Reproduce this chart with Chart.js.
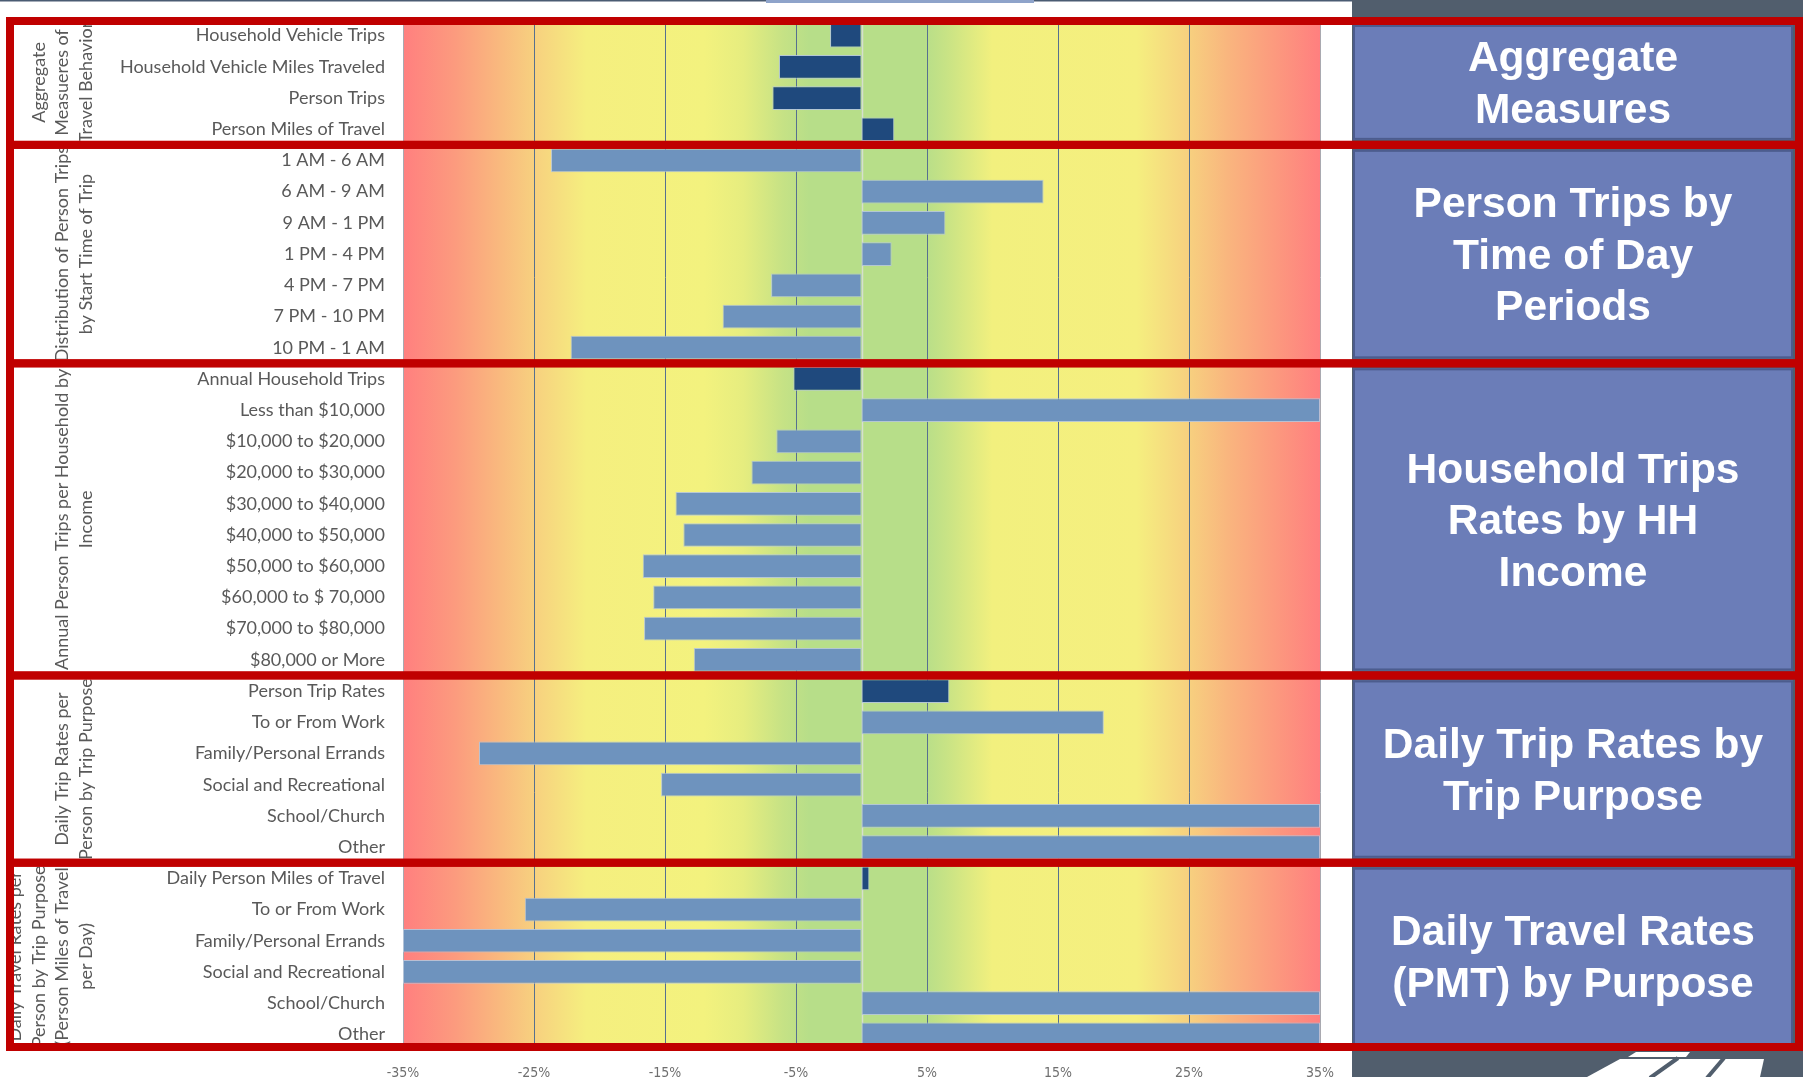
<!DOCTYPE html>
<html>
<head>
<meta charset="utf-8">
<title>Travel Behavior Change</title>
<script src="https://cdn.jsdelivr.net/npm/chart.js@4.4.1/dist/chart.umd.min.js"></script>
<style>
  html, body { margin: 0; padding: 0; background: #ffffff; }
  canvas { display: block; }
</style>
</head>
<body>
<canvas id="chart" width="1803" height="1077"></canvas>
<script>
// ---- Data: percent change by measure, grouped in five sections ----
const aggregateLabels = ['Household Vehicle Trips', 'Household Vehicle Miles Traveled', 'Person Trips', 'Person Miles of Travel'];
const aggregateValues = [-2.4, -6.3, -6.8, 2.5];

const timeOfDayLabels = ['1 AM - 6 AM', '6 AM - 9 AM', '9 AM - 1 PM', '1 PM - 4 PM', '4 PM - 7 PM', '7 PM - 10 PM', '10 PM - 1 AM'];
const timeOfDayValues = [-23.7, 13.9, 6.4, 2.3, -6.9, -10.6, -22.2];

const incomeLabels = ['Annual Household Trips', 'Less than $10,000', '$10,000 to $20,000', '$20,000 to $30,000', '$30,000 to $40,000',
  '$40,000 to $50,000', '$50,000 to $60,000', '$60,000 to $ 70,000', '$70,000 to $80,000', '$80,000 or More'];
const incomeValues = [-5.2, 35, -6.5, -8.4, -14.2, -13.6, -16.7, -15.9, -16.6, -12.8];

const tripPurposeLabels = ['Person Trip Rates', 'To or From Work', 'Family/Personal Errands', 'Social and Recreational', 'School/Church', 'Other'];
const tripPurposeValues = [6.7, 18.5, -29.2, -15.3, 35, 35];

const pmtLabels = ['Daily Person Miles of Travel', 'To or From Work', 'Family/Personal Errands', 'Social and Recreational', 'School/Church', 'Other'];
const pmtValues = [0.6, -25.7, -35, -35, 35, 35];

// Number of leading summary rows in each section (drawn in the darker colour)
const summaryRowCounts = [4, 0, 1, 1, 1];

// Rotated section captions on the left
const sectionCaptions = [
  ['Aggregate', 'Measueres of', 'Travel Behavior'],
  ['Distribution of Person Trips', 'by Start Time of Trip'],
  ['Annual Person Trips per Household by', 'Income'],
  ['Daily Trip Rates per', 'Person by Trip Purpose'],
  ['Daily Travel Rates per', 'Person by Trip Purpose', '(Person Miles of Travel', 'per Day)']
];

// Section headings in the right-hand panels
const panelTitles = [
  ['Aggregate', 'Measures'],
  ['Person Trips by', 'Time of Day', 'Periods'],
  ['Household Trips', 'Rates by HH', 'Income'],
  ['Daily Trip Rates by', 'Trip Purpose'],
  ['Daily Travel Rates', '(PMT) by Purpose']
];

// Value-axis ticks (percent)
const xTickValues = [-35, -25, -15, -5, 5, 15, 25, 35];

// ---- Assemble the category list ----
const sectionLabels = [aggregateLabels, timeOfDayLabels, incomeLabels, tripPurposeLabels, pmtLabels];
const sectionValues = [aggregateValues, timeOfDayValues, incomeValues, tripPurposeValues, pmtValues];

const labels = [].concat(...sectionLabels);
const values = [].concat(...sectionValues);
const DARK = '#1F497D', LIGHT = '#6E93BE';
const colors = [];
const sectionStarts = [];
sectionLabels.forEach((arr, s) => {
  sectionStarts.push(colors.length);
  arr.forEach((_, i) => colors.push(i < summaryRowCounts[s] ? DARK : LIGHT));
});
sectionStarts.push(labels.length);

// Background bands: red - yellow - green - yellow - red
const gradientStops = [
  [-35, '#FF7F7F'], [-31, '#FC9B7E'], [-27.5, '#F9BA7E'], [-25, '#F7D07F'], [-21, '#F5EF7F'],
  [-12, '#F3F27E'], [-9, '#E6ED7F'], [-6, '#C6E285'], [-4, '#B7DE89'], [4.8, '#B7DE89'],
  [6.5, '#C8E385'], [10, '#F2F07E'], [21, '#F5EF7F'], [25, '#F7D07F'], [28, '#F9B57E'],
  [31.5, '#FC9A7E'], [35, '#FF7F7F']
];

const LABEL_FONT = "Lato, 'Open Sans', 'Liberation Sans', sans-serif";
const RED = '#C00000';
const PLOT_TOP = 20;

function sectionBounds(chart) {
  const y = chart.scales.y;
  const band = y.getPixelForValue(1) - y.getPixelForValue(0);
  return sectionStarts.map(i => y.getPixelForValue(i) - band / 2);
}

const backdropPlugin = {
  id: 'backdrop',
  beforeDraw(chart) {
    const { ctx, chartArea: a, scales: { x } } = chart;
    ctx.save();
    ctx.fillStyle = '#ffffff';
    ctx.fillRect(0, 0, chart.width, chart.height);
    // slate side panel
    const sideLeft = a.right + 32;
    ctx.fillStyle = '#515E6D';
    ctx.fillRect(sideLeft, 0, chart.width - sideLeft, chart.height);
    // top rule
    ctx.fillStyle = '#4A5B72';
    ctx.fillRect(0, 0, sideLeft, 1.5);
    ctx.fillStyle = '#8EA3CA';
    ctx.fillRect(766, 0, 268, 3);
    // colour bands behind the bars
    const span = a.right - a.left;
    const g = ctx.createLinearGradient(a.left, 0, a.right, 0);
    gradientStops.forEach(([v, c]) => g.addColorStop((x.getPixelForValue(v) - a.left) / span, c));
    ctx.fillStyle = g;
    ctx.fillRect(a.left, a.top, span, a.bottom - a.top);
    ctx.restore();
  },
  beforeDatasetsDraw(chart) {
    const { ctx, chartArea: a, scales: { x } } = chart;
    const x0 = Math.round(x.getPixelForValue(0)) + 0.5;
    ctx.save();
    ctx.strokeStyle = 'rgba(215,222,210,0.95)';
    ctx.lineWidth = 1.5;
    ctx.beginPath();
    ctx.moveTo(x0, a.top);
    ctx.lineTo(x0, a.bottom);
    ctx.stroke();
    ctx.restore();
  },
  afterDraw(chart) {
    const { ctx, chartArea: a } = chart;
    const b = sectionBounds(chart);
    const W = chart.width;
    const sideLeft = a.right + 33;
    const sideRight = W - 10;

    ctx.save();
    // rotated captions
    ctx.fillStyle = '#595959';
    ctx.font = '18px ' + LABEL_FONT;
    ctx.textAlign = 'center';
    ctx.textBaseline = 'middle';
    sectionCaptions.forEach((lines, s) => {
      const top = b[s], bottom = b[s + 1];
      const cy = (top + bottom) / 2;
      ctx.save();
      ctx.beginPath();
      ctx.rect(14, top + 4, 96, bottom - top - 8);
      ctx.clip();
      lines.forEach((line, i) => {
        const cx = 86 - (lines.length - 1 - i) * 23.5;
        ctx.save();
        ctx.translate(cx, cy);
        ctx.rotate(-Math.PI / 2);
        ctx.fillText(line, 0, 0);
        ctx.restore();
      });
      ctx.restore();
    });

    // right-hand panels
    panelTitles.forEach((lines, s) => {
      const top = b[s] + 5, bottom = b[s + 1] - 5;
      ctx.fillStyle = '#6B7DB8';
      ctx.fillRect(sideLeft, top, sideRight - sideLeft, bottom - top);
      ctx.strokeStyle = '#4C5C8E';
      ctx.lineWidth = 2;
      ctx.strokeRect(sideLeft + 1, top + 1, sideRight - sideLeft - 2, bottom - top - 2);
      ctx.fillStyle = '#FFFFFF';
      ctx.font = "bold 42.5px 'Liberation Sans', Arial, sans-serif";
      ctx.textAlign = 'center';
      ctx.textBaseline = 'middle';
      const lh = 51.5;
      const cy = (top + bottom) / 2 + 3;
      lines.forEach((line, i) => {
        ctx.fillText(line, (sideLeft + sideRight) / 2, cy + (i - (lines.length - 1) / 2) * lh);
      });
    });

    // road markings at the bottom of the side panel
    ctx.fillStyle = '#FFFFFF';
    ctx.beginPath();
    ctx.moveTo(1587, 1077); ctx.lineTo(1620, 1059); ctx.lineTo(1764, 1059); ctx.lineTo(1760, 1077);
    ctx.closePath(); ctx.fill();
    ctx.beginPath();
    ctx.moveTo(1628, 1057); ctx.lineTo(1636, 1052); ctx.lineTo(1690, 1052); ctx.lineTo(1686, 1057);
    ctx.closePath(); ctx.fill();
    ctx.strokeStyle = '#515E6D';
    ctx.lineWidth = 4;
    [[1678, 1650], [1724, 1707]].forEach(([xt, xb]) => {
      ctx.beginPath(); ctx.moveTo(xt, 1058); ctx.lineTo(xb, 1078); ctx.stroke();
    });

    // red section frames
    ctx.strokeStyle = RED;
    ctx.lineWidth = 8;
    for (let s = 0; s < b.length - 1; s++) {
      const top = s === 0 ? b[s] + 1 : b[s];
      const bottom = s === b.length - 2 ? b[s + 1] - 3 : b[s + 1];
      ctx.strokeRect(10, top, W - 14, bottom - top);
    }
    ctx.restore();
  }
};

const chart = new Chart(document.getElementById('chart'), {
  type: 'bar',
  data: {
    labels: labels,
    datasets: [{
      data: values,
      backgroundColor: colors,
      borderColor: 'rgba(178,196,220,0.9)',
      borderWidth: 1,
      borderSkipped: false,
      barPercentage: 0.76,
      categoryPercentage: 1.0
    }]
  },
  plugins: [backdropPlugin],
  options: {
    indexAxis: 'y',
    responsive: false,
    animation: false,
    devicePixelRatio: 1,
    layout: { autoPadding: false, padding: { top: PLOT_TOP, right: 483, bottom: 0, left: 0 } },
    plugins: { legend: { display: false }, tooltip: { enabled: false } },
    scales: {
      x: {
        min: -35,
        max: 35,
        afterBuildTicks: s => { s.ticks = xTickValues.map(v => ({ value: v })); },
        afterFit: s => { s.height = 27; s.paddingLeft = 0; s.paddingRight = 0; s.paddingTop = 0; s.paddingBottom = 0; },
        border: { display: false },
        grid: {
          drawTicks: false,
          lineWidth: 1,
          color: c => (c.tick && Math.abs(c.tick.value) === 35) ? '#A9A9B0' : '#56708F'
        },
        ticks: {
          padding: 15,
          color: '#6F6F6F',
          font: { family: "'Liberation Sans Narrow', 'DejaVu Sans Condensed', 'Liberation Sans', sans-serif", size: 14 },
          callback: v => v + '%'
        }
      },
      y: {
        afterFit: s => { s.width = 403; s.paddingTop = 0; s.paddingBottom = 0; s.paddingLeft = 0; s.paddingRight = 0; },
        border: { display: false },
        grid: { display: false, drawTicks: false },
        ticks: {
          padding: 18,
          color: '#595959',
          autoSkip: false,
          font: { family: LABEL_FONT, size: 18 }
        }
      }
    }
  }
});

// Keep the plot area's top edge at PLOT_TOP
const drift = chart.chartArea.top - PLOT_TOP;
if (Math.abs(drift) > 0.5) {
  chart.options.layout.padding.top = PLOT_TOP - drift;
  chart.update();
}
</script>
</body>
</html>
